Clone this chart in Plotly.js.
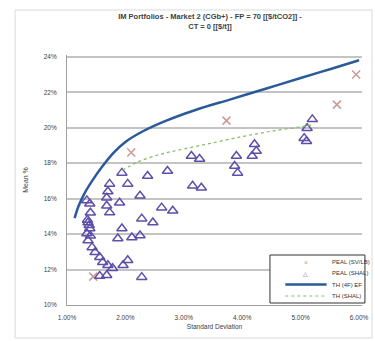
<!DOCTYPE html>
<html><head><meta charset="utf-8">
<script src="https://cdn.plot.ly/plotly-3.0.1.min.js"></script>
<style>html,body{margin:0;padding:0;background:#fff}#c{width:375px;height:341px}</style>
</head><body><div id="c"></div>
<script>
// Series 1 (x markers)
const s1Sd   = [1.45, 2.10, 3.73, 5.62, 5.95];
const s1Mean = [11.6, 18.6, 20.4, 21.3, 23.0];
// Series 2 (open triangles)
const s2Sd   = [1.94,1.73,2.04,2.38,2.72,3.13,3.27,3.15,3.30,1.39,1.68,1.68,1.73,1.90,2.25,2.62,2.81,2.28,2.47,1.94,1.87,2.11,2.25,1.36,1.39,1.34,1.36,1.43,1.48,1.56,1.61,1.70,1.78,1.96,2.04,1.68,1.56,2.28,3.90,3.87,3.92,4.21,4.24,4.17,5.20,5.11,5.06,5.10,1.40,1.70,1.35,1.40,1.38,1.34];
const s2Mean = [17.45,16.83,16.83,17.28,17.56,18.40,18.23,16.72,16.61,15.71,16.05,15.60,15.21,15.77,16.16,15.49,15.32,14.87,14.65,14.31,13.75,13.81,13.92,14.65,14.31,14.03,13.64,13.25,12.97,12.69,12.41,12.24,12.07,12.24,12.52,11.68,11.63,11.57,18.40,17.84,17.45,19.07,18.68,18.40,20.47,19.97,19.41,19.24,15.2,16.4,14.8,13.9,14.5,15.9];
// Frontier 1 (solid blue)
const f1Sd   = [1.13,1.20,1.30,1.45,1.60,1.80,2.00,2.30,2.70,3.20,3.80,4.40,5.00,5.50,6.00];
const f1Mean = [14.9,15.6,16.3,17.1,17.8,18.6,19.2,19.8,20.4,21.0,21.6,22.2,22.8,23.3,23.8];
// Frontier 2 (dashed green)
const f2Sd   = [1.95,2.20,2.60,3.00,3.50,4.00,4.50,5.00,5.20];
const f2Mean = [17.6,18.05,18.5,18.8,19.15,19.5,19.8,20.05,20.15];
// Ticks
const xTickVals = [1,2,3,4,5,6];
const xTickText = ['1.00%','2.00%','3.00%','4.00%','5.00%','6.00%'];
const yTickVals = [10,12,14,16,18,20,22,24];
const yTickText = ['10%','12%','14%','16%','18%','20%','22%','24%'];
const names = ['PEAL (SV/LB)','PEAL (SHAL)','TH (4F) EF','TH (SHAL)'];

const c1 = '#c99a9a', c2 = '#5e4fa8', c3 = '#2a5a9a', c4 = '#7fbf5f';
const traces = [
  {x:s1Sd,y:s1Mean,type:'scatter',mode:'markers',name:names[0],
   marker:{symbol:'x-thin-open',size:8,color:c1,line:{width:1.5,color:c1}}},
  {x:s2Sd,y:s2Mean,type:'scatter',mode:'markers',name:names[1],
   marker:{symbol:'triangle-up-open',size:9,color:c2,line:{width:1.5,color:c2}}},
  {x:f1Sd,y:f1Mean,type:'scatter',mode:'lines',name:names[2],
   line:{color:c3,width:2.5,shape:'spline'}},
  {x:f2Sd,y:f2Mean,type:'scatter',mode:'lines',name:names[3],
   line:{color:c4,width:1.2,dash:'dot',shape:'spline'}}
];

// manual compact legend (paper coords)
const lgX0 = 0.688, lgX1 = 1.01, lgY0 = 0.008, lgY1 = 0.2;
const rowY = [0.172, 0.128, 0.082, 0.036];
const sampX0 = 0.74, sampX1 = 0.88, sampXc = 0.81, textX = 0.89;
const shapes = [
  {type:'rect',xref:'paper',yref:'paper',x0:-0.176,x1:1.034,y0:-0.132,y1:1.18,line:{color:'#d9d9d9',width:1}},
  {type:'rect',xref:'paper',yref:'paper',x0:lgX0,x1:lgX1,y0:lgY0,y1:lgY1,line:{color:'#333',width:1},fillcolor:'#fff',layer:'above'},
  {type:'line',xref:'paper',yref:'paper',x0:sampX0,x1:sampX1,y0:rowY[2],y1:rowY[2],line:{color:c3,width:2.5},layer:'above'},
  {type:'line',xref:'paper',yref:'paper',x0:sampX0,x1:sampX1,y0:rowY[3],y1:rowY[3],line:{color:c4,width:1.2,dash:'dot'},layer:'above'}
];
const annotations = [];
names.forEach((n,i)=>{
  annotations.push({xref:'paper',yref:'paper',x:textX,y:rowY[i],xanchor:'left',yanchor:'middle',
    text:n,showarrow:false,font:{size:6,color:'#333'}});
});
annotations.push({xref:'paper',yref:'paper',x:sampXc,y:rowY[0],xanchor:'center',yanchor:'middle',text:'×',showarrow:false,font:{size:7,color:c1}});
annotations.push({xref:'paper',yref:'paper',x:sampXc,y:rowY[1],xanchor:'center',yanchor:'middle',text:'△',showarrow:false,font:{size:6,color:c2,family:'DejaVu Sans'}});

const layout = {
  width:375,height:341,
  margin:{l:67,r:13,t:55,b:36},
  paper_bgcolor:'#fff',plot_bgcolor:'#fff',
  font:{family:'Arial, Liberation Sans, sans-serif',color:'#404040',size:7},
  title:{text:'IM Portfolios - Market 2 (CGb+) - FP = 70 [[$/tCO2]] -<br>CT = 0 [[$/t]]',
         font:{size:7.5,color:'#404040',weight:'bold'},x:0.56,xanchor:'center',y:0.945,yanchor:'top'},
  xaxis:{range:[1,6.05],tickvals:xTickVals,ticktext:xTickText,showgrid:false,zeroline:false,automargin:false,
         showline:true,linecolor:'#a0a0a0',linewidth:1,ticks:'outside',ticklen:6,tickcolor:'#fff',tickfont:{size:6.5},
         title:{text:'Standard Deviation',font:{size:6.5},standoff:4}},
  yaxis:{range:[10,24.1],tickvals:yTickVals,ticktext:yTickText,showgrid:true,gridcolor:'#c4c4c4',gridwidth:2,
         zeroline:false,showline:true,linecolor:'#a0a0a0',linewidth:1,ticks:'outside',ticklen:8,tickcolor:'#fff',tickfont:{size:6.5},automargin:false,
         title:{text:'Mean %',font:{size:7},standoff:14}},
  showlegend:false,
  shapes:shapes,
  annotations:annotations
};
Plotly.newPlot('c',traces,layout,{displayModeBar:false,staticPlot:true});
</script></body></html>
